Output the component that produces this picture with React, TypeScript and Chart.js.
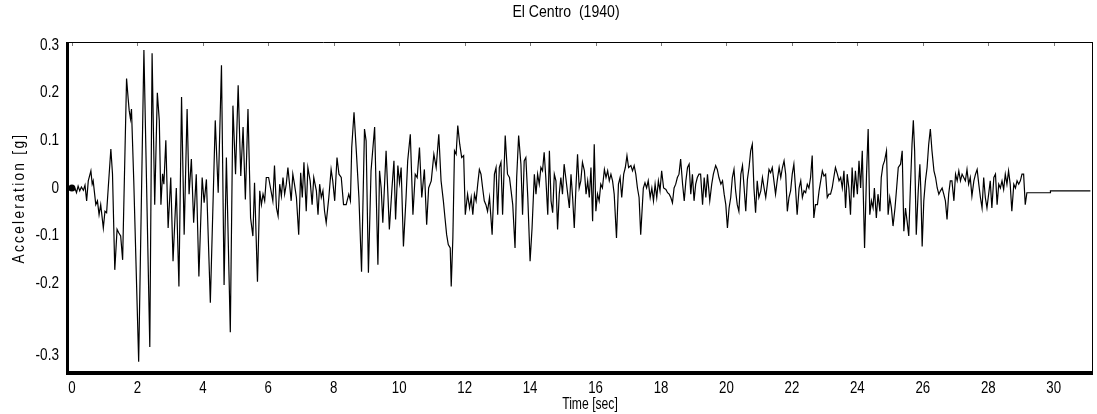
import React, { useEffect, useRef } from 'react';
import { Chart, registerables } from 'chart.js';

Chart.register(...registerables);

const chartTitle = 'El Centro  (1940)';
const xAxisTitle = 'Time [sec]';
const yAxisTitle = 'Acceleration [g]';

const xTickValues = [0, 2, 4, 6, 8, 10, 12, 14, 16, 18, 20, 22, 24, 26, 28, 30];
const xTickLabels = ['0', '2', '4', '6', '8', '10', '12', '14', '16', '18', '20', '22', '24', '26', '28', '30'];
// the source figure prints its "-0.3" label lower than a linear step below "-0.2"
const yTickValues = [0.3, 0.2, 0.1, 0, -0.1, -0.2, -0.351];
const yTickLabels = ['0.3', '0.2', '0.1', '0', '-0.1', '-0.2', '-0.3'];
const xRange = [-0.15, 31.2];
const yRange = [-0.3866, 0.3067];

// time [s] of each read sample
const timeSec = [
  0, 0.09, 0.14, 0.19, 0.24, 0.29, 0.35, 0.40, 0.45, 0.50,
  0.58, 0.62, 0.65, 0.73, 0.78, 0.83, 0.88, 0.96, 1.01, 1.06,
  1.11, 1.19, 1.24, 1.31, 1.38, 1.43, 1.49, 1.55, 1.67, 1.72,
  1.75, 1.79, 1.82, 1.89, 2.04, 2.20, 2.38, 2.45, 2.53, 2.61,
  2.67, 2.72, 2.77, 2.81, 2.87, 2.94, 3.02, 3.09, 3.19, 3.27,
  3.35, 3.43, 3.52, 3.58, 3.65, 3.72, 3.80, 3.88, 3.98, 4.04,
  4.11, 4.23, 4.38, 4.47, 4.57, 4.65, 4.72, 4.84, 4.92, 5.00,
  5.08, 5.16, 5.23, 5.30, 5.38, 5.46, 5.53, 5.58, 5.67, 5.74,
  5.79, 5.84, 5.89, 5.94, 6.01, 6.14, 6.19, 6.25, 6.30, 6.35,
  6.40, 6.45, 6.50, 6.55, 6.60, 6.65, 6.70, 6.75, 6.80, 6.86,
  6.93, 6.99, 7.04, 7.09, 7.16, 7.21, 7.28, 7.34, 7.39, 7.47,
  7.52, 7.57, 7.62, 7.67, 7.72, 7.77, 7.85, 7.92, 7.97, 8.03,
  8.10, 8.16, 8.23, 8.30, 8.38, 8.46, 8.51, 8.55, 8.62, 8.69,
  8.77, 8.85, 8.94, 8.99, 9.06, 9.14, 9.25, 9.35, 9.40, 9.45,
  9.50, 9.60, 9.70, 9.78, 9.84, 9.89, 9.96, 10.01, 10.06, 10.13,
  10.21, 10.26, 10.34, 10.42, 10.49, 10.55, 10.62, 10.69, 10.77, 10.84,
  10.90, 10.98, 11.06, 11.13, 11.21, 11.28, 11.35, 11.40, 11.45, 11.50,
  11.56, 11.59, 11.64, 11.69, 11.74, 11.79, 11.85, 11.91, 11.97, 12.02,
  12.09, 12.15, 12.20, 12.25, 12.30, 12.35, 12.40, 12.45, 12.50, 12.55,
  12.60, 12.65, 12.70, 12.76, 12.84, 12.91, 12.96, 13.01, 13.06, 13.11,
  13.16, 13.24, 13.31, 13.37, 13.42, 13.47, 13.54, 13.59, 13.65, 13.72,
  13.77, 13.82, 13.87, 13.93, 14.00, 14.06, 14.13, 14.18, 14.23, 14.28,
  14.33, 14.38, 14.43, 14.48, 14.54, 14.59, 14.64, 14.69, 14.74, 14.79,
  14.84, 14.89, 14.94, 14.99, 15.04, 15.09, 15.15, 15.20, 15.25, 15.30,
  15.35, 15.40, 15.45, 15.50, 15.55, 15.60, 15.66, 15.71, 15.76, 15.81,
  15.86, 15.91, 15.96, 16.01, 16.06, 16.11, 16.16, 16.21, 16.27, 16.32,
  16.37, 16.42, 16.47, 16.52, 16.57, 16.64, 16.70, 16.75, 16.80, 16.86,
  16.91, 16.96, 17.01, 17.08, 17.13, 17.18, 17.23, 17.28, 17.33, 17.38,
  17.46, 17.51, 17.56, 17.61, 17.67, 17.72, 17.77, 17.82, 17.87, 17.92,
  17.97, 18.02, 18.08, 18.15, 18.20, 18.25, 18.30, 18.35, 18.40, 18.45,
  18.50, 18.55, 18.60, 18.66, 18.71, 18.76, 18.81, 18.86, 18.91, 18.96,
  19.01, 19.06, 19.11, 19.16, 19.21, 19.27, 19.32, 19.37, 19.42, 19.49,
  19.55, 19.60, 19.67, 19.72, 19.77, 19.83, 19.88, 19.93, 19.98, 20.03,
  20.08, 20.13, 20.18, 20.23, 20.28, 20.33, 20.38, 20.44, 20.49, 20.54,
  20.59, 20.64, 20.69, 20.74, 20.79, 20.84, 20.89, 20.94, 20.99, 21.05,
  21.10, 21.15, 21.20, 21.25, 21.30, 21.35, 21.40, 21.45, 21.50, 21.55,
  21.61, 21.66, 21.71, 21.76, 21.81, 21.86, 21.91, 21.96, 22.01, 22.06,
  22.11, 22.16, 22.22, 22.27, 22.32, 22.37, 22.42, 22.47, 22.52, 22.57,
  22.62, 22.67, 22.72, 22.78, 22.83, 22.88, 22.93, 22.98, 23.03, 23.08,
  23.13, 23.18, 23.23, 23.28, 23.33, 23.39, 23.44, 23.49, 23.54, 23.59,
  23.64, 23.69, 23.74, 23.79, 23.84, 23.89, 23.94, 24.00, 24.05, 24.10,
  24.15, 24.22, 24.28, 24.33, 24.38, 24.43, 24.48, 24.52, 24.58, 24.63,
  24.69, 24.73, 24.78, 24.83, 24.89, 24.94, 24.99, 25.04, 25.09, 25.15,
  25.20, 25.25, 25.32, 25.37, 25.42, 25.47, 25.52, 25.57, 25.62, 25.67,
  25.71, 25.75, 25.80, 25.86, 25.91, 25.94, 25.98, 26.03, 26.08, 26.13,
  26.18, 26.23, 26.28, 26.34, 26.39, 26.44, 26.49, 26.54, 26.59, 26.64,
  26.69, 26.74, 26.79, 26.84, 26.89, 26.95, 27.00, 27.05, 27.10, 27.15,
  27.20, 27.25, 27.30, 27.35, 27.40, 27.45, 27.50, 27.56, 27.61, 27.66,
  27.71, 27.76, 27.81, 27.86, 27.91, 27.96, 28.06, 28.11, 28.17, 28.22,
  28.27, 28.32, 28.37, 28.42, 28.47, 28.52, 28.57, 28.62, 28.67, 28.72,
  28.78, 28.83, 28.88, 28.93, 28.98, 29.03, 29.08, 29.13, 29.18, 29.89,
  29.90, 31.12,
];

// ground acceleration [g] at each time above (in the plot's linear scale)
const accelG = [
  0, 0, -0.01, 0.004, -0.006, 0.002, -0.005, 0.006, -0.027, 0.015,
  0.036, 0.008, 0.015, -0.035, -0.027, -0.056, -0.035, -0.084, -0.049, -0.052,
  0, 0.082, 0.03, -0.172, -0.087, -0.094, -0.101, -0.151, 0.23, 0.187,
  0.163, 0.145, 0.166, 0.015, -0.365, 0.29, -0.334, 0.283, -0.035, 0.2,
  0.142, -0.035, 0.03, 0.008, 0.1, -0.084, 0.022, -0.154, 0, -0.207,
  0.191, -0.098, 0.166, -0.013, 0.061, -0.073, 0.029, -0.186, 0.022, -0.031,
  0.018, -0.241, 0.142, -0.01, 0.258, -0.204, 0.064, -0.303, 0.173, 0.029,
  0.216, 0.025, 0.128, -0.024, 0.166, -0.063, -0.101, 0.011, -0.197, -0.006,
  -0.035, -0.013, -0.027, 0.022, 0.022, -0.027, 0.047, -0.042, -0.059, 0.008,
  -0.017, 0.022, -0.013, 0.008, 0.043, 0.008, -0.027, 0.029, 0.008, -0.02,
  -0.098, 0.032, -0.02, 0.054, -0.049, 0.043, 0.015, -0.035, 0.022, -0.006,
  -0.056, 0.008, -0.02, -0.006, -0.049, -0.073, -0.02, 0.039, 0.015, -0.027,
  0.064, 0.029, 0.022, -0.035, -0.035, -0.013, -0.027, 0.085, 0.159, 0.078,
  -0.02, -0.176, 0.124, 0.099, -0.178, 0.036, 0.128, -0.161, 0.036, 0,
  -0.073, 0.078, -0.087, 0, 0.057, -0.066, 0.047, 0.011, 0.043, -0.123,
  -0.02, 0.057, 0.113, -0.056, 0.029, 0.022, 0.085, -0.02, 0.039, -0.077,
  0, 0.015, 0.071, 0.043, 0.113, 0.015, -0.027, -0.063, -0.098, -0.119,
  -0.126, -0.207, -0.105, 0.078, 0.071, 0.131, 0.092, 0.064, 0.068, -0.056,
  -0.013, -0.042, -0.02, -0.056, -0.013, -0.027, 0.008, 0.039, 0.029, 0,
  -0.027, -0.035, -0.049, -0.02, -0.098, 0.029, 0.043, -0.056, 0.043, 0.054,
  -0.056, 0.11, 0.029, 0.022, -0.006, -0.035, -0.126, 0.022, 0.11, 0.05,
  -0.056, 0.057, 0.064, -0.02, -0.154, -0.084, 0.029, -0.013, 0.029, 0.008,
  0.043, 0.036, 0.075, 0.022, -0.056, 0.078, -0.027, -0.052, 0.029, 0.015,
  -0.087, -0.013, 0.022, -0.013, 0.05, 0.022, -0.013, -0.042, 0.029, -0.02,
  -0.084, 0, 0.071, 0, 0.015, 0.054, 0.036, -0.013, 0.015, -0.02,
  0.043, -0.07, 0.092, -0.049, -0.013, -0.027, 0.008, 0, 0.039, 0.022,
  0.036, 0.015, 0.029, 0.015, -0.013, -0.105, 0.008, 0.022, -0.02, 0.029,
  0.043, 0.068, 0.043, 0.047, 0.036, 0.047, 0.029, 0, -0.02, -0.098,
  0, 0.011, 0, 0.015, -0.02, 0, -0.027, 0.008, -0.02, 0.015,
  -0.006, 0.036, 0, -0.003, -0.01, -0.013, -0.02, -0.031, 0, 0.008,
  0.022, 0.029, 0.061, 0.008, -0.027, 0.015, 0.043, 0.05, -0.013, 0.029,
  -0.027, 0.008, 0.022, 0.029, 0.029, -0.035, 0.022, -0.02, 0.029, -0.027,
  0.008, 0.029, 0.047, 0.039, 0.022, 0.008, 0.015, -0.013, -0.035, -0.084,
  -0.042, -0.02, 0.022, 0.039, -0.006, -0.035, -0.049, 0.029, 0.047, 0,
  -0.049, 0.018, 0.043, 0.078, 0.092, 0, -0.052, 0.015, -0.02, -0.006,
  0.022, 0, -0.02, 0.008, 0.039, 0.032, 0.043, 0.015, -0.013, 0.015,
  0.043, 0.022, 0.043, 0.057, 0.029, -0.049, -0.02, -0.006, 0.029, 0.05,
  0, -0.056, 0, 0.015, -0.02, -0.006, -0.01, 0.008, 0, 0.022,
  0.068, -0.063, -0.035, -0.035, -0.006, 0.015, 0.036, 0.025, 0.029, -0.02,
  -0.013, -0.013, 0, 0.022, 0.043, 0.029, 0.015, 0.022, 0, 0.036,
  -0.042, 0.029, 0, -0.056, 0.043, -0.02, 0.036, -0.013, 0.057, 0,
  0.078, -0.126, 0.029, 0.124, -0.056, -0.027, -0.042, 0, -0.063, -0.013,
  -0.049, 0.022, 0.047, 0.057, 0.078, -0.056, -0.02, -0.042, -0.08, -0.042,
  0, 0.043, 0.05, 0.078, -0.091, -0.042, -0.07, -0.101, 0, 0.092,
  0.142, 0.078, -0.098, -0.006, 0.05, -0.006, -0.123, -0.027, 0.015, 0.043,
  0.092, 0.124, 0.078, 0.036, 0.022, 0, -0.013, -0.006, 0, -0.013,
  -0.027, -0.066, -0.013, 0.015, 0.015, -0.027, 0.029, 0.015, 0.036, 0.015,
  0.029, 0.022, 0.015, 0.039, 0.008, 0.022, -0.017, 0.015, 0.029, 0.039,
  0.008, -0.02, -0.042, 0.022, -0.02, -0.042, 0.015, -0.042, 0.022, 0.029,
  -0.035, 0.008, 0, 0.015, -0.003, 0.029, 0.008, 0.036, 0.008, -0.049,
  0.008, 0, 0.015, 0.008, 0.015, 0.029, 0.029, -0.035, -0.01, -0.01,
  -0.006, -0.006,
];

const startMarkerTime = [0];
const startMarkerAccel = [0];

const FONT = '"Liberation Sans", Arial, sans-serif';

function drawText(ctx: CanvasRenderingContext2D, text: string, x: number, y: number, size: number, sx: number, align: CanvasTextAlign) {
  ctx.save();
  ctx.translate(x, y);
  ctx.scale(sx, 1);
  ctx.font = `${size}px ${FONT}`;
  ctx.textAlign = align;
  ctx.textBaseline = 'middle';
  ctx.fillStyle = '#000';
  ctx.fillText(text, 0, 0);
  ctx.restore();
}

const framePlugin = {
  id: 'frameAndText',
  afterDraw(chart: any) {
    const { ctx, chartArea, scales } = chart;
    const { left, right, top, bottom } = chartArea;
    ctx.save();
    ctx.strokeStyle = '#000';
    ctx.lineWidth = 1;
    ctx.beginPath();
    ctx.moveTo(left, top + 0.5);
    ctx.lineTo(right, top + 0.5);
    ctx.moveTo(right - 0.5, top);
    ctx.lineTo(right - 0.5, bottom);
    ctx.stroke();
    ctx.lineWidth = 3;
    ctx.beginPath();
    ctx.moveTo(left + 0.5, top);
    ctx.lineTo(left + 0.5, bottom + 3);
    ctx.stroke();
    ctx.lineWidth = 4;
    ctx.beginPath();
    ctx.moveTo(left - 1, bottom + 1);
    ctx.lineTo(right, bottom + 1);
    ctx.stroke();

    ctx.lineWidth = 1;
    ctx.strokeStyle = '#777';
    ctx.beginPath();
    xTickValues.forEach((v) => {
      const x = Math.round(scales.x.getPixelForValue(v)) + 0.5;
      ctx.moveTo(x, top + 1);
      ctx.lineTo(x, top + 4);
    });
    ctx.stroke();
    ctx.restore();

    xTickValues.forEach((v, i) => {
      drawText(ctx, xTickLabels[i], scales.x.getPixelForValue(v), 388, 17, 0.78, 'center');
    });
    yTickValues.forEach((v, i) => {
      drawText(ctx, yTickLabels[i], 59, scales.y.getPixelForValue(v), 17, 0.8, 'right');
    });

    drawText(ctx, chartTitle, 566, 13, 16, 0.88, 'center');
    drawText(ctx, xAxisTitle, 590, 405, 16, 0.76, 'center');

    ctx.save();
    ctx.translate(19, 198);
    ctx.rotate(-Math.PI / 2);
    ctx.scale(0.8, 1);
    ctx.font = `17px ${FONT}`;
    ctx.textAlign = 'center';
    ctx.textBaseline = 'middle';
    ctx.fillStyle = '#000';
    (ctx as any).letterSpacing = '2.9px';
    ctx.fillText(yAxisTitle, 0, 0);
    ctx.restore();
  },
};

export default function App() {
  const ref = useRef<HTMLCanvasElement>(null);

  useEffect(() => {
    const n = Math.min(timeSec.length, accelG.length);
    const points: { x: number; y: number }[] = [];
    for (let i = 0; i < n; i++) points.push({ x: timeSec[i], y: accelG[i] });
    const marker = startMarkerTime.map((t, i) => ({ x: t, y: startMarkerAccel[i] }));

    const chart = new Chart(ref.current as HTMLCanvasElement, {
      type: 'line',
      data: {
        datasets: [
          {
            data: points,
            borderColor: '#000',
            borderWidth: 1.2,
            pointRadius: 0,
            tension: 0,
            fill: false,
          },
          {
            data: marker,
            showLine: false,
            pointRadius: 3.5,
            pointBackgroundColor: '#000',
            pointBorderColor: '#000',
            pointBorderWidth: 0,
          },
        ],
      },
      options: {
        animation: false,
        responsive: false,
        maintainAspectRatio: false,
        layout: { padding: { top: 42, right: 3, left: 0, bottom: 0 } },
        plugins: {
          legend: { display: false },
          tooltip: { enabled: false },
          title: { display: false },
        },
        scales: {
          x: {
            type: 'linear',
            min: xRange[0],
            max: xRange[1],
            afterFit: (s: any) => {
              s.height = 42;
            },
            afterBuildTicks: (s: any) => {
              s.ticks = xTickValues.map((v) => ({ value: v }));
            },
            grid: { display: false, drawTicks: false },
            border: { display: false },
            ticks: { display: false },
          },
          y: {
            type: 'linear',
            min: yRange[0],
            max: yRange[1],
            afterFit: (s: any) => {
              s.width = 67;
            },
            afterBuildTicks: (s: any) => {
              s.ticks = yTickValues.map((v) => ({ value: v }));
            },
            grid: { display: false, drawTicks: false },
            border: { display: false },
            ticks: { display: false },
          },
        },
      },
      plugins: [framePlugin],
    });
    return () => chart.destroy();
  }, []);

  return (
    <div style={{ position: 'fixed', left: 0, top: 0, width: 1097, height: 414, background: '#fff' }}>
      <canvas ref={ref} width={1097} height={414} style={{ width: 1097, height: 414, display: 'block' }} />
    </div>
  );
}
